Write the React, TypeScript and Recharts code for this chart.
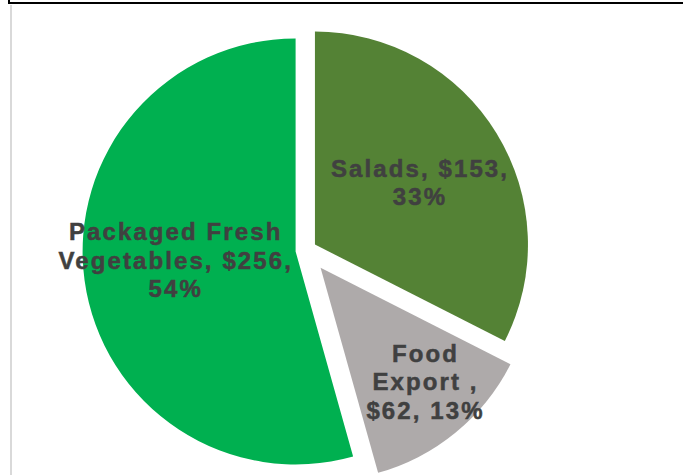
import { PieChart, Pie, Cell, Sector } from 'recharts'

const categories = ['Salads', 'Food Export ', 'Packaged Fresh Vegetables']
const values = [153, 62, 256]
const labelLines = [
  ['Salads, $153,', '33%'],
  ['Food', 'Export ,', '$62, 13%'],
  ['Packaged Fresh', 'Vegetables, $256,', '54%'],
]

const COLORS = ['#548235', '#AEAAAA', '#00B050']
const EXPLODE = [10.5, 23, 10.5]
// label distance (fraction of radius) and angle nudge (deg) from each slice's mid-angle
const LABEL_POS = [0.569, 0.724, 0.569]
const LABEL_TURN = [-0.7, 3, -3.75]
const RAD = Math.PI / 180

const data = categories.map((name, i) => ({ name, value: values[i] }))

const explodeOffset = (i: number, midAngle: number) => ({
  dx: EXPLODE[i] * Math.cos(-midAngle * RAD),
  dy: EXPLODE[i] * Math.sin(-midAngle * RAD),
})

function ExplodedSector(props: any) {
  const i = categories.indexOf(props.name ?? props.payload?.name)
  const { dx, dy } = explodeOffset(i, props.midAngle)
  return <Sector {...props} cx={props.cx + dx} cy={props.cy + dy} stroke="none" />
}

function renderLabel(props: any) {
  const { cx, cy, midAngle, outerRadius, index } = props
  const { dx, dy } = explodeOffset(index, midAngle)
  const r = outerRadius * LABEL_POS[index]
  const a = midAngle + LABEL_TURN[index]
  const x = cx + dx + r * Math.cos(-a * RAD)
  const y = cy + dy + r * Math.sin(-a * RAD)
  const lines = labelLines[index]
  const lh = 28.5
  const cap = 17
  const firstBase = y - ((lines.length - 1) * lh + cap) / 2 + cap
  return (
    <text
      x={x}
      y={firstBase}
      textAnchor="middle"
      fill="#404040"
      stroke="#404040"
      strokeWidth={0.5}
      fontFamily="'Liberation Sans', Arial, sans-serif"
      fontWeight="bold"
      fontSize={24}
      letterSpacing={2.1}
    >
      {lines.map((t, k) => (
        <tspan key={k} x={x + 1} y={firstBase + k * lh}>
          {t}
        </tspan>
      ))}
    </text>
  )
}

export default function App() {
  return (
    <div style={{ position: 'absolute', left: 0, top: 0, width: 683, height: 475, background: '#fff', overflow: 'hidden' }}>
      {/* frame remnants */}
      <div style={{ position: 'absolute', left: 8, top: 2, width: 675, height: 2, background: '#000' }} />
      <div style={{ position: 'absolute', left: 8, top: 0, width: 2, height: 4, background: '#000' }} />
      <div style={{ position: 'absolute', left: 10, top: 5, width: 1.5, height: 470, background: '#d9d9d9' }} />
      <PieChart
        width={683}
        height={475}
        margin={{ top: 0, right: 0, bottom: 0, left: 0 }}
        style={{ position: 'absolute', left: 0, top: 0 }}
      >
        <Pie
          data={data}
          dataKey="value"
          nameKey="name"
          cx={306}
          cy={250}
          outerRadius={213}
          startAngle={90}
          endAngle={-270}
          stroke="none"
          shape={ExplodedSector}
          label={renderLabel}
          labelLine={false}
          isAnimationActive={false}
        >
          {data.map((d, i) => (
            <Cell key={d.name} fill={COLORS[i]} />
          ))}
        </Pie>
      </PieChart>
    </div>
  )
}
